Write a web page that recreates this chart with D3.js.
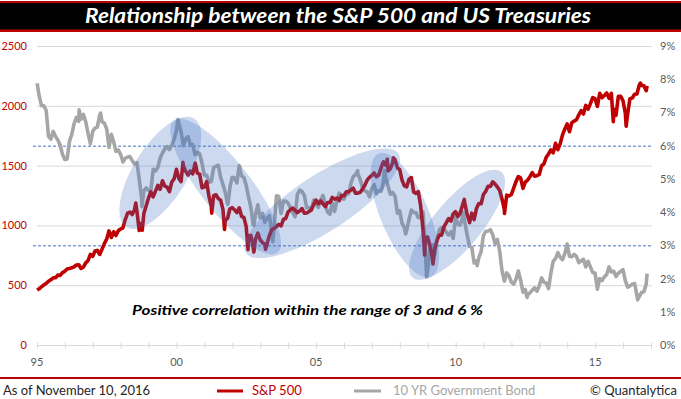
<!DOCTYPE html>
<html><head><meta charset="utf-8">
<script src="https://cdn.jsdelivr.net/npm/d3@7"></script>
<style>
html,body{margin:0;padding:0;background:#fff;}
svg{display:block;font-family:Lato,"Open Sans",sans-serif;}
</style></head>
<body><svg id="c" width="681" height="399"></svg>
<script>
// ---------------- DATA ----------------
const startYear = 1995;
const spxStart = [1995.005, 459];
const tnyStart = [1995.005, 7.88];
// month-end S&P 500 closes, Jan 1995 .. Oct 2016
const spxMonthly = [
 470,487,501,515,533,545,562,562,584,582,605,616,
 636,640,645,654,669,671,640,652,687,705,757,741,
 786,791,757,801,848,885,954,899,947,915,955,970,
 980,1049,1102,1112,1091,1134,1121,957,1017,1099,1164,1229,
 1280,1238,1286,1335,1302,1373,1329,1320,1283,1363,1389,1469,
 1394,1366,1499,1452,1421,1455,1431,1518,1437,1429,1315,1320,
 1366,1240,1160,1249,1256,1224,1211,1134,1041,1060,1139,1148,
 1130,1107,1147,1076,1067,990,912,916,815,886,936,880,
 856,841,848,917,964,975,990,1008,996,1051,1058,1112,
 1131,1145,1126,1107,1121,1141,1102,1104,1115,1130,1174,1212,
 1181,1204,1181,1157,1192,1191,1234,1220,1229,1207,1249,1248,
 1280,1281,1295,1311,1270,1270,1277,1304,1336,1378,1401,1418,
 1438,1407,1421,1482,1531,1503,1455,1474,1527,1549,1481,1468,
 1379,1331,1323,1386,1400,1280,1267,1283,1165,969,896,903,
 826,735,798,873,919,919,987,1021,1057,1036,1096,1115,
 1074,1104,1169,1187,1089,1031,1102,1049,1141,1183,1181,1258,
 1286,1327,1326,1364,1345,1321,1292,1219,1131,1253,1247,1258,
 1312,1366,1408,1398,1310,1362,1379,1407,1441,1412,1416,1426,
 1498,1515,1569,1598,1631,1606,1686,1633,1682,1757,1806,1848,
 1783,1859,1872,1884,1924,1960,1931,2003,1972,2018,2068,2059,
 1995,2105,2068,2086,2107,2063,2104,1972,1920,2079,2080,2044,
 1940,1932,2060,2065,2097,2099,2174,2171,2168,2126
];
// intra-month highs / lows of the S&P 500 [decimal year, value]
const spxExtremes = [
 [1998.54,1187],[1998.77,959],[2000.23,1527],[2000.67,1521],[2001.26,1103],
 [2001.72,966],[2002.56,797],[2002.77,777],[2003.19,800],[2007.55,1553],
 [2007.77,1565],[2008.89,752],[2009.19,677],[2010.31,1217],[2010.50,1023],
 [2011.75,1099],[2015.65,1868],[2016.11,1829],[2016.62,2190],[2016.86,2167]
];
// month-end 10 YR government bond yield (%), Jan 1995 .. Oct 2016
const tnyMonthly = [
 7.49,7.20,7.20,7.06,6.28,6.20,6.43,6.28,6.17,6.02,5.74,5.58,
 5.60,6.13,6.34,6.66,6.85,6.73,6.80,6.94,6.72,6.37,6.06,6.43,
 6.53,6.56,6.92,6.72,6.68,6.51,5.95,6.34,6.12,5.83,5.87,5.74,
 5.51,5.62,5.66,5.67,5.55,5.45,5.49,5.00,4.44,4.64,4.73,4.65,
 4.65,5.29,5.24,5.35,5.62,5.78,5.90,5.97,5.88,6.02,6.19,6.44,
 6.68,6.41,6.00,6.21,6.27,6.03,6.03,5.73,5.80,5.75,5.47,5.11,
 5.11,4.90,4.92,5.34,5.38,5.41,5.05,4.83,4.59,4.23,4.75,5.05,
 5.03,4.88,5.40,5.09,5.04,4.80,4.46,4.14,3.63,3.93,4.22,3.83,
 3.96,3.69,3.83,3.89,3.37,3.54,4.49,4.47,3.96,4.33,4.33,4.27,
 4.13,3.99,3.86,4.53,4.66,4.62,4.50,4.13,4.14,4.05,4.36,4.24,
 4.14,4.36,4.50,4.21,4.00,3.94,4.28,4.02,4.34,4.57,4.49,4.39,
 4.53,4.55,4.86,5.07,5.12,5.15,4.99,4.74,4.64,4.61,4.46,4.71,
 4.83,4.56,4.65,4.63,4.90,5.03,4.78,4.54,4.59,4.48,3.97,4.04,
 3.67,3.53,3.45,3.77,4.06,3.99,3.99,3.83,3.85,4.01,2.93,2.25,
 2.87,3.02,2.71,3.16,3.47,3.53,3.52,3.40,3.31,3.41,3.21,3.85,
 3.63,3.61,3.84,3.69,3.31,2.97,2.94,2.47,2.53,2.63,2.81,3.30,
 3.42,3.43,3.47,3.32,3.05,3.18,2.82,2.23,1.92,2.17,2.08,1.89,
 1.83,1.98,2.23,1.95,1.59,1.67,1.51,1.57,1.65,1.72,1.62,1.78,
 2.02,1.89,1.87,1.70,2.16,2.52,2.60,2.78,2.64,2.57,2.75,3.04,
 2.67,2.66,2.73,2.67,2.48,2.53,2.58,2.35,2.52,2.35,2.18,2.17,
 1.68,2.00,1.94,2.05,2.12,2.35,2.20,2.22,2.06,2.16,2.21,2.27,
 1.94,1.74,1.78,1.83,1.85,1.49,1.46,1.58,1.60,1.84
];
const tnyExtremes = [
 [1996.51,7.08],[1997.28,6.98],[1998.76,4.16],[2000.05,6.79],[2001.85,4.28],
 [2002.77,3.60],[2003.45,3.11],[2006.49,5.25],[2007.45,5.26],[2008.21,3.34],
 [2008.96,2.05],[2010.26,4.00],[2010.77,2.39],[2012.56,1.43],[2016.52,1.36],
 [2016.86,2.15]
];
const leftTicks = [0,500,1000,1500,2000,2500];
const rightTicks = [0,1,2,3,4,5,6,7,8,9];
const bandLevels = [3,6];
const xTickYears = d3.range(1995, 2018);
const xLabelYears = [1995,2000,2005,2010,2015];
const titleText = "Relationship between the S&P 500 and US Treasuries";
const noteText = "Positive correlation within the range of 3 and 6 %";
const seriesNames = ["S&P 500", "10 YR Government Bond"];
const asOfText = "As of November 10, 2016";
const creditText = "© Quantalytica";
// highlighted regions: centre in data space (year, S&P value)
const regions = [
 {year:1999.42, spx:1440, rx:64, ry:27, rot:-58},
 {year:2001.76, spx:1325, rx:84, ry:25, rot:52},
 {year:2005.22, spx:1185, rx:91, ry:28, rot:-33},
 {year:2008.18, spx:1085, rx:67, ry:24, rot:67},
 {year:2010.05, spx:1005, rx:69, ry:24, rot:-50}
];

// ---------------- BUILD ----------------
function build(start, monthly, extremes){
  const pts = [start];
  monthly.forEach((v,i)=>pts.push([startYear + (i+0.95)/12, v]));
  extremes.forEach(p=>pts.push(p));
  return pts.sort((a,b)=>a[0]-b[0]);
}
const spx = build(spxStart, spxMonthly, spxExtremes);
const tny = build(tnyStart, tnyMonthly, tnyExtremes);

const svg = d3.select("#c");
const W = 681, H = 399;
const x = d3.scaleLinear().domain([1995, 2017]).range([37, 651]);
const yL = d3.scaleLinear().domain([0, 2500]).range([345, 46]);
const yR = d3.scaleLinear().domain([0, 9]).range([345, 46]);

const RED = "#c00000", GRAY = "#a6a6a6", AX = "#595959";

// title bar
svg.append("rect").attr("x",0).attr("y",1).attr("width",W).attr("height",31).attr("fill",RED);
svg.append("rect").attr("x",0).attr("y",3).attr("width",W).attr("height",26.5).attr("fill","#000");
svg.append("text").attr("x",338).attr("y",23).attr("text-anchor","middle")
  .attr("font-size",20).attr("font-weight",700).attr("font-style","italic")
  .attr("fill","#fff").attr("textLength",506).attr("lengthAdjust","spacingAndGlyphs")
  .text(titleText);

// gridlines
svg.append("g").selectAll("line").data(leftTicks.filter(d=>d>0)).join("line")
  .attr("x1",37).attr("x2",652).attr("y1",d=>yL(d)+0.5).attr("y2",d=>yL(d)+0.5)
  .attr("stroke","#d9d9d9").attr("stroke-width",1);

// x axis
const xAxis = d3.axisBottom(x).tickValues(xTickYears).tickSize(4).tickFormat("");
const gx = svg.append("g").attr("transform","translate(0,345.5)").call(xAxis);
gx.select(".domain").attr("stroke","#d9d9d9").attr("d","M37,0H651");
gx.selectAll(".tick line").attr("stroke","#d9d9d9").attr("y1",-3).attr("y2",3);
svg.append("g").selectAll("text").data(xLabelYears).join("text")
  .attr("x",d=>x(d)).attr("y",366).attr("text-anchor","middle")
  .attr("font-size",11).attr("fill",AX)
  .text(d=>String(d%100).padStart(2,"0"));

// left axis
const gl = svg.append("g").attr("transform","translate(27,0)")
  .call(d3.axisLeft(yL).tickValues(leftTicks).tickSize(0).tickPadding(0).tickFormat(d3.format("d")));
gl.select(".domain").remove();
gl.selectAll("text").attr("font-family","Lato").attr("font-size",11).attr("fill",RED);

// right axis
const gr = svg.append("g").attr("transform","translate(660,0)")
  .call(d3.axisRight(yR).tickValues(rightTicks).tickSize(0).tickPadding(0).tickFormat(d=>d+"%"));
gr.select(".domain").remove();
gr.selectAll("text").attr("font-family","Lato").attr("font-size",11).attr("fill",AX);

// 3% / 6% band lines
svg.append("g").selectAll("line").data(bandLevels).join("line")
  .attr("x1",33).attr("x2",653).attr("y1",d=>yR(d)+0.5).attr("y2",d=>yR(d)+0.5)
  .attr("stroke","#4472c4").attr("stroke-width",1).attr("stroke-dasharray","3,2");

// series
const lineL = d3.line().x(d=>x(d[0])).y(d=>yL(d[1]));
const lineR = d3.line().x(d=>x(d[0])).y(d=>yR(d[1]));
svg.append("path").datum(tny).attr("d",lineR).attr("fill","none")
  .attr("stroke",GRAY).attr("stroke-width",3.6).attr("stroke-linejoin","round");
svg.append("path").datum(spx).attr("d",lineL).attr("fill","none")
  .attr("stroke",RED).attr("stroke-width",3.6).attr("stroke-linejoin","round");

// highlight ellipses
svg.append("g").selectAll("ellipse").data(regions).join("ellipse")
  .attr("transform",d=>`translate(${x(d.year)},${yL(d.spx)}) rotate(${d.rot})`)
  .attr("rx",d=>d.rx).attr("ry",d=>d.ry)
  .attr("fill","#4472c4").attr("fill-opacity",0.27);

// annotation
svg.append("text").attr("x",132).attr("y",315)
  .attr("font-size",14).attr("font-weight",700).attr("font-style","italic")
  .attr("fill","#000").attr("textLength",351).attr("lengthAdjust","spacingAndGlyphs")
  .text(noteText);

// footer
svg.append("rect").attr("x",0).attr("y",377).attr("width",W).attr("height",2).attr("fill",RED);
svg.append("text").attr("x",3).attr("y",395).attr("font-size",13).attr("fill","#262626").text(asOfText);
svg.append("line").attr("x1",217).attr("x2",243).attr("y1",391).attr("y2",391)
  .attr("stroke",RED).attr("stroke-width",3);
svg.append("text").attr("x",252).attr("y",395).attr("font-size",13).attr("fill",RED).text(seriesNames[0]);
svg.append("line").attr("x1",354).attr("x2",381).attr("y1",391).attr("y2",391)
  .attr("stroke",GRAY).attr("stroke-width",3);
svg.append("text").attr("x",393).attr("y",395).attr("font-size",13).attr("fill",GRAY).text(seriesNames[1]);
svg.append("text").attr("x",677).attr("y",395).attr("text-anchor","end").attr("font-size",13).attr("fill","#262626").text(creditText);
</script></body></html>
